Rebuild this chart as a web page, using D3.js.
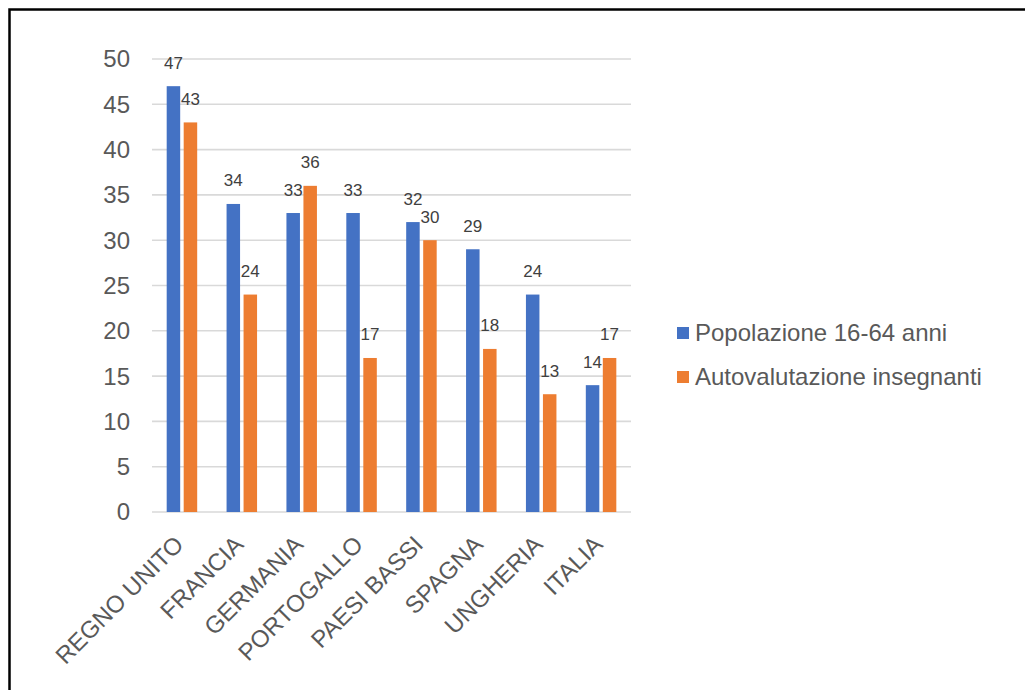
<!DOCTYPE html>
<html>
<head>
<meta charset="utf-8">
<script src="https://cdn.jsdelivr.net/npm/d3@7"></script>
<style>
  html, body { margin: 0; padding: 0; background: #fff; }
  svg { display: block; font-family: "Liberation Sans", Arial, sans-serif; }
</style>
</head>
<body>
<svg id="chart" width="1025" height="690"></svg>
<script>
const categories = ["REGNO UNITO", "FRANCIA", "GERMANIA", "PORTOGALLO", "PAESI BASSI", "SPAGNA", "UNGHERIA", "ITALIA"];
const seriesNames = ["Popolazione 16-64 anni", "Autovalutazione insegnanti"];
const popolazione = [47, 34, 33, 33, 32, 29, 24, 14];
const insegnanti = [43, 24, 36, 17, 30, 18, 13, 17];
const yTicks = [0, 5, 10, 15, 20, 25, 30, 35, 40, 45, 50];
const colors = ["#4472C4", "#ED7D31"];

(function () {
const svg = d3.select("#chart");

// frame
svg.append("rect")
  .attr("x", 9.5).attr("y", 9.5)
  .attr("width", 1040).attr("height", 700)
  .attr("fill", "none").attr("stroke", "#000").attr("stroke-width", 2.5);

const mLeft = 152, mRight = 631, mTop = 59, mBottom = 512;

const x = d3.scaleBand().domain(categories).range([mLeft, mRight]).paddingInner(0).paddingOuter(0);
const y = d3.scaleLinear().domain([0, 50]).range([mBottom, mTop]);

const series = [popolazione, insegnanti];

// gridlines
svg.append("g")
  .selectAll("line").data(yTicks).join("line")
  .attr("x1", mLeft).attr("x2", mRight)
  .attr("y1", d => y(d)).attr("y2", d => y(d))
  .attr("stroke", "#D9D9D9").attr("stroke-width", 1.6);

// y tick labels
svg.append("g")
  .selectAll("text").data(yTicks).join("text")
  .attr("x", 130).attr("y", d => y(d))
  .attr("dy", "0.35em")
  .attr("text-anchor", "end")
  .attr("font-size", 24)
  .attr("fill", "#595959")
  .text(d => d);

// bars
const barW = 13.5, gap = 3.5;
series.forEach((vals, si) => {
  const off = si === 0 ? -(gap / 2 + barW) : gap / 2;
  const g = svg.append("g");
  g.selectAll("rect").data(vals).join("rect")
    .attr("x", (d, i) => x(categories[i]) + x.bandwidth() / 2 + off)
    .attr("y", d => y(d))
    .attr("width", barW)
    .attr("height", d => y(0) - y(d))
    .attr("fill", colors[si]);
  g.selectAll("text").data(vals).join("text")
    .attr("x", (d, i) => x(categories[i]) + x.bandwidth() / 2 + off + barW / 2)
    .attr("y", d => y(d) - 17.5)
    .attr("text-anchor", "middle")
    .attr("font-size", 17)
    .attr("fill", "#404040")
    .text(d => d);
});

// x labels
svg.append("g")
  .selectAll("text").data(categories).join("text")
  .attr("transform", d => `translate(${x(d) + x.bandwidth() / 2 + 3},546) rotate(-45)`)
  .attr("text-anchor", "end")
  .attr("font-size", 24)
  .attr("fill", "#595959")
  .text(d => d);

// legend
const legend = svg.append("g");
seriesNames.forEach((name, i) => {
  const ly = 333 + i * 44;
  legend.append("rect")
    .attr("x", 677).attr("y", ly - 6)
    .attr("width", 12).attr("height", 12)
    .attr("fill", colors[i]);
  legend.append("text")
    .attr("x", 695).attr("y", ly)
    .attr("dy", "0.35em")
    .attr("font-size", 24)
    .attr("fill", "#595959")
    .text(name);
});
})();
</script>
</body>
</html>
